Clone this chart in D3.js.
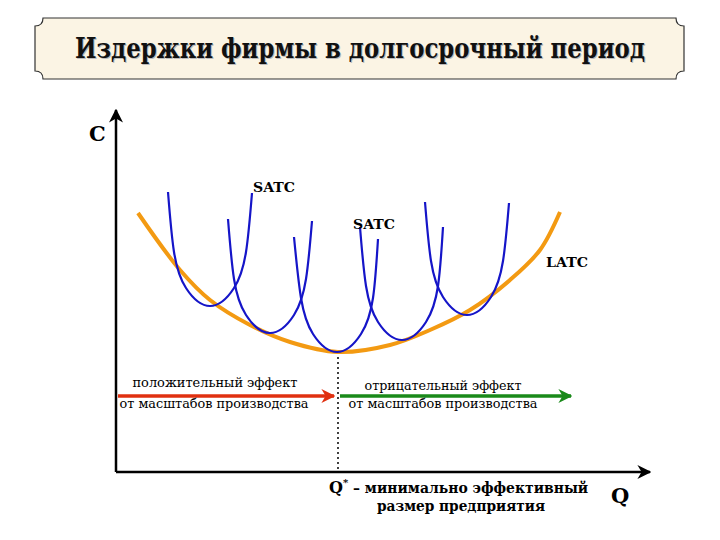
<!DOCTYPE html>
<html><head><meta charset="utf-8">
<script src="https://cdn.jsdelivr.net/npm/d3@7"></script>
<style>body{margin:0;background:#fff}</style>
</head><body>
<script>
// chart values in chart units (Q to the right, cost up)
var latc = [[22,259],[64,202],[94,172],[134,147],[174,130],[222,120],[274,127],[314,142],[354,162],[394,192],[424,222],[444,260]];
var satc1 = [[52,280],[58,220],[70,184],[94,166],[118,184],[130,220],[136,279]];
var satc2 = [[112,253],[118,193],[130,157],[154,139],[178,157],[190,193],[196,251]];
var satc3 = [[178,235],[185,174],[197,138],[221,120],[245,138],[257,174],[262,233]];
var satc4 = [[244,245],[250,186],[262,150],[286,132],[310,150],[322,186],[327,245]];
var satc5 = [[309,270],[315,211],[327,175],[351,157],[375,175],[387,211],[393,269]];
var qStar = 222, minCost = 120;

var width = 720, height = 540;
var serif = "'DejaVu Serif', 'Liberation Serif', serif";
var svg = d3.select("body").append("svg").attr("width", width).attr("height", height)
  .attr("font-family", serif);

var x = d3.scaleLinear().domain([0, 532]).range([116, 648]);
var y = d3.scaleLinear().domain([0, 360]).range([472, 112]);

// title frame with notched corners
var fx0 = 35, fy0 = 18, fx1 = 684, fy1 = 79, n = 8;
svg.append("path")
  .attr("d", "M"+(fx0+n)+","+fy0+" L"+(fx1-n)+","+fy0+" Q"+(fx1-n)+","+(fy0+n)+" "+fx1+","+(fy0+n)+
       " L"+fx1+","+(fy1-n)+" Q"+(fx1-n)+","+(fy1-n)+" "+(fx1-n)+","+fy1+
       " L"+(fx0+n)+","+fy1+" Q"+(fx0+n)+","+(fy1-n)+" "+fx0+","+(fy1-n)+
       " L"+fx0+","+(fy0+n)+" Q"+(fx0+n)+","+(fy0+n)+" "+(fx0+n)+","+fy0+" Z")
  .attr("fill", "#fbf4e4").attr("stroke", "#333").attr("stroke-width", 1.2);

function txt(xx, yy, s, size, bold, anchor, len) {
  var t = svg.append("text").attr("x", xx).attr("y", yy).attr("font-size", size)
    .attr("font-weight", bold ? "bold" : "normal").attr("text-anchor", anchor || "start").text(s);
  if (len) t.attr("textLength", len).attr("lengthAdjust", "spacingAndGlyphs");
  return t;
}
txt(361, 59, "Издержки фирмы в долгосрочный период", 24, true, "middle", 570).attr("fill", "#bbb").attr("font-size", 27);
txt(360, 58, "Издержки фирмы в долгосрочный период", 24, true, "middle", 570).attr("fill", "#111").attr("font-size", 27);

// markers
var defs = svg.append("defs");
function marker(id, color, w) {
  defs.append("marker").attr("id", id).attr("viewBox", "0 0 10 10").attr("refX", 9).attr("refY", 5)
    .attr("markerWidth", w).attr("markerHeight", w).attr("orient", "auto").attr("markerUnits", "userSpaceOnUse")
    .append("path").attr("d", "M0,0 L10,5 L0,10 L3,5 Z").attr("fill", color);
}
marker("ax", "#000", 14);
marker("ar", "#e03010", 14);
marker("ag", "#1a8a1a", 14);

// axes
svg.append("line").attr("x1", x(0)).attr("y1", y(0)).attr("x2", x(0)).attr("y2", y(362))
  .attr("stroke", "#000").attr("stroke-width", 2.5).attr("marker-end", "url(#ax)");
svg.append("line").attr("x1", x(0)).attr("y1", y(0)).attr("x2", x(534)).attr("y2", y(0))
  .attr("stroke", "#000").attr("stroke-width", 2.5).attr("marker-end", "url(#ax)");

var line = d3.line().x(function(d){return x(d[0]);}).y(function(d){return y(d[1]);}).curve(d3.curveCatmullRom);
var uLine = d3.line().x(function(d){return x(d[0]);}).y(function(d){return y(d[1]);}).curve(d3.curveNatural);

// Q* dotted line
svg.append("line").attr("x1", x(qStar)).attr("y1", y(minCost)).attr("x2", x(qStar)).attr("y2", y(0))
  .attr("stroke", "#000").attr("stroke-width", 1.5).attr("stroke-dasharray", "2,3");

// LATC
svg.append("path").attr("d", line(latc)).attr("fill", "none").attr("stroke", "#f39a12").attr("stroke-width", 4);

// SATC curves
svg.append("g").selectAll("path").data([satc1, satc2, satc3, satc4, satc5]).enter().append("path")
  .attr("d", uLine).attr("fill", "none").attr("stroke", "#1515c8").attr("stroke-width", 2.2);

// effect arrows
svg.append("line").attr("x1", x(2)).attr("y1", y(76)).attr("x2", x(218)).attr("y2", y(76))
  .attr("stroke", "#e03010").attr("stroke-width", 3.5).attr("marker-end", "url(#ar)");
svg.append("line").attr("x1", x(224)).attr("y1", y(76)).attr("x2", x(455)).attr("y2", y(76))
  .attr("stroke", "#1a8a1a").attr("stroke-width", 3.5).attr("marker-end", "url(#ag)");

txt(215, 387, "положительный эффект", 13, false, "middle", 165);
txt(214, 408, "от масштабов производства", 13, false, "middle", 189);
txt(443, 390, "отрицательный эффект", 13, false, "middle", 157);
txt(443, 408, "от масштабов производства", 13, false, "middle", 189);

txt(89, 141, "C", 21, true);
txt(611, 503, "Q", 21, true);
txt(253, 192, "SATC", 13, true, "start", 42);
txt(353, 229, "SATC", 13, true, "start", 42);
txt(546, 267, "LATC", 13, true, "start", 42);
svg.append("text").attr("x", 329).attr("y", 493).attr("font-size", 16).attr("font-weight", "bold")
  .html('Q<tspan dy="-7" font-size="10">*</tspan><tspan dy="7" font-size="14" textLength="240" lengthAdjust="spacingAndGlyphs"> – минимально эффективный</tspan>');
txt(461, 511, "размер предприятия", 14, true, "middle", 168);
</script>
</body></html>
